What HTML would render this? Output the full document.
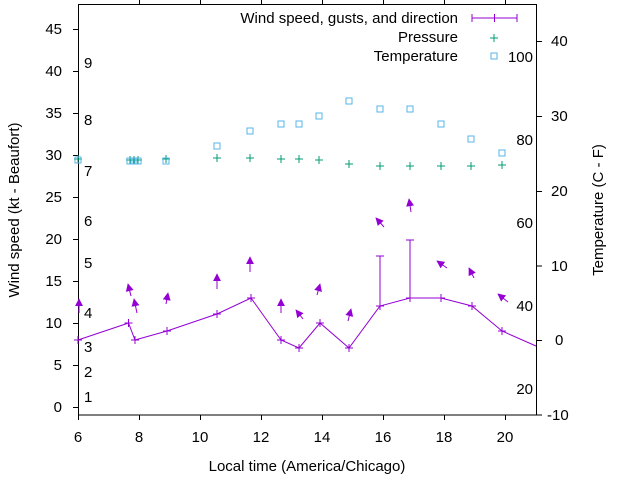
<!DOCTYPE html>
<html><head><meta charset="utf-8"><style>
html,body{margin:0;padding:0;background:#fff;}
svg{display:block;font-family:"Liberation Sans",sans-serif;}
</style></head><body>
<svg width="640" height="480" viewBox="0 0 640 480" xmlns="http://www.w3.org/2000/svg">
<defs>
<marker id="ah" viewBox="0 0 10 10" refX="9" refY="5" markerWidth="8" markerHeight="9" orient="auto" markerUnits="userSpaceOnUse">
<path d="M0,0 L10,5 L0,10 Z" fill="#9400d3"/>
</marker>
<marker id="pl" viewBox="-4 -4 8 8" markerWidth="8" markerHeight="8" refX="0" refY="0" markerUnits="userSpaceOnUse">
<path d="M-4,0H4M0,-4V4" stroke="#9400d3" stroke-width="1"/>
</marker>
</defs>
<g stroke="#000" stroke-width="1" fill="none">
<rect x="78.5" y="4.5" width="458" height="410.5"/>
<path d="M73,407.5H78M73,365.5H78M73,323.5H78M73,281.5H78M73,239.5H78M73,197.5H78M73,155.5H78M73,113.5H78M73,71.5H78M73,29.5H78"/>
<path d="M537,415H542M537,340.5H542M537,266H542M537,191.5H542M537,116.5H542M537,41.5H542"/>
<path d="M78.5,415V420M139.5,415V420M200.5,415V420M261.5,415V420M322.5,415V420M383.5,415V420M444.5,415V420M505.5,415V420"/>
<path d="M139.5,0V4M200.5,0V4M261.5,0V4M322.5,0V4M383.5,0V4M444.5,0V4M505.5,0V4"/>
</g>
<g font-size="15" fill="#000" text-anchor="end">
<text x="62" y="412">0</text><text x="62" y="370">5</text><text x="62" y="328">10</text><text x="62" y="286">15</text><text x="62" y="244">20</text><text x="62" y="202">25</text><text x="62" y="160">30</text><text x="62" y="118">35</text><text x="62" y="76">40</text><text x="62" y="34">45</text>
</g>
<g font-size="15" fill="#000" text-anchor="start">
<text x="547" y="420">-10</text><text x="555" y="345">0</text><text x="551" y="271">10</text><text x="551" y="196">20</text><text x="551" y="121">30</text><text x="551" y="46">40</text>
<text x="84" y="402">1</text><text x="84" y="377">2</text><text x="84" y="352">3</text><text x="84" y="318">4</text><text x="84" y="268">5</text><text x="84" y="226">6</text><text x="84" y="176">7</text><text x="84" y="125">8</text><text x="84" y="68">9</text>
</g>
<g font-size="15" fill="#000" text-anchor="end">
<text x="533" y="62">100</text><text x="533" y="145">80</text><text x="533" y="228">60</text><text x="533" y="311">40</text><text x="533" y="394">20</text>
</g>
<g font-size="15" fill="#000" text-anchor="middle">
<text x="78" y="442">6</text><text x="139" y="442">8</text><text x="200" y="442">10</text><text x="261" y="442">12</text><text x="322" y="442">14</text><text x="383" y="442">16</text><text x="444" y="442">18</text><text x="505" y="442">20</text>
<text x="307" y="471">Local time (America/Chicago)</text>
<text transform="translate(19,210) rotate(-90)">Wind speed (kt - Beaufort)</text>
<text transform="translate(603,210) rotate(-90)">Temperature (C - F)</text>
</g>
<g font-size="15" fill="#000" text-anchor="end">
<text x="458" y="23">Wind speed, gusts, and direction</text>
<text x="458" y="42">Pressure</text>
<text x="458" y="61">Temperature</text>
</g>
<g stroke="#9400d3" stroke-width="1" fill="none">
<path d="M472,18H517M472,14V22M517,14V22M494.5,14V22"/>
<polyline points="78,340 128.5,323 135,340 167,331 217,314 251,298 281,340 299,348 320,323 349,348 380,306 410,298 441,298 472,306 502,331 536,346" marker-start="url(#pl)" marker-mid="url(#pl)"/>
<path d="M380,306V256M376,256H384M410,298V240M406,240H414"/>
<g marker-end="url(#ah)">
<line x1="79" y1="313" x2="79" y2="299"/>
<line x1="131" y1="296" x2="128" y2="284"/>
<line x1="137" y1="313" x2="134" y2="299"/>
<line x1="166" y1="304" x2="168" y2="293"/>
<line x1="217" y1="289" x2="217" y2="274"/>
<line x1="250" y1="272" x2="250" y2="257"/>
<line x1="281" y1="313" x2="281" y2="299"/>
<line x1="303" y1="319" x2="296" y2="310"/>
<line x1="317" y1="295" x2="320" y2="284"/>
<line x1="348" y1="321" x2="351" y2="309"/>
<line x1="384" y1="227" x2="376" y2="218"/>
<line x1="411" y1="212" x2="409" y2="199"/>
<line x1="447" y1="268" x2="437" y2="261"/>
<line x1="474" y1="278" x2="469" y2="268"/>
<line x1="508" y1="302" x2="498" y2="294"/>
</g>
</g>
<g stroke="#009e73" stroke-width="1" fill="none">
<path d="M490,38h8M494,34v8"/>
<path d="M74,159h8M78,155v8 M126,160h8M130,156v8 M130,160h8M134,156v8 M134,160h8M138,156v8 M162,159h8M166,155v8 M213,158h8M217,154v8 M246,158h8M250,154v8 M277,159h8M281,155v8 M295,159h8M299,155v8 M315,160h8M319,156v8 M345,164h8M349,160v8 M376,166h8M380,162v8 M406,166h8M410,162v8 M437,166h8M441,162v8 M467,166h8M471,162v8 M498,165h8M502,161v8"/>
</g>
<g stroke="#56b4e9" stroke-width="1" fill="none">
<rect x="491" y="53" width="6" height="6"/>
<rect x="75" y="157" width="6" height="6"/>
<rect x="127" y="158" width="6" height="6"/><rect x="131" y="158" width="6" height="6"/><rect x="135" y="158" width="6" height="6"/>
<rect x="163" y="158" width="6" height="6"/>
<rect x="214" y="143" width="6" height="6"/>
<rect x="247" y="128" width="6" height="6"/>
<rect x="278" y="121" width="6" height="6"/>
<rect x="296" y="121" width="6" height="6"/>
<rect x="316" y="113" width="6" height="6"/>
<rect x="346" y="98" width="6" height="6"/>
<rect x="377" y="106" width="6" height="6"/>
<rect x="407" y="106" width="6" height="6"/>
<rect x="438" y="121" width="6" height="6"/>
<rect x="468" y="136" width="6" height="6"/>
<rect x="499" y="150" width="6" height="6"/>
</g>
</svg>
</body></html>
